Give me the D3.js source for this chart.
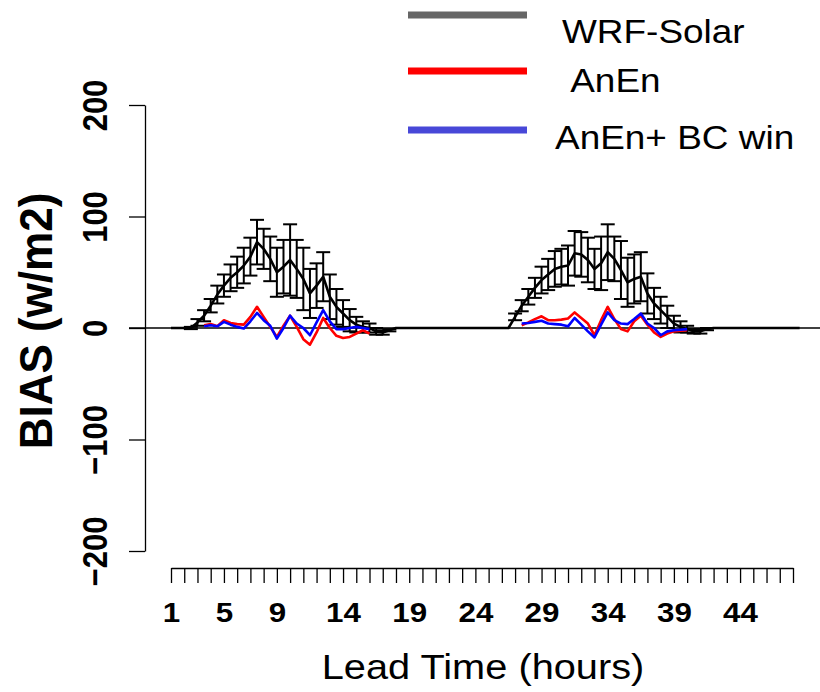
<!DOCTYPE html>
<html>
<head>
<meta charset="utf-8">
<script src="https://cdn.jsdelivr.net/npm/d3@7"></script>
<style>
  body { margin: 0; background: #fff; }
  text { font-family: Arial, "Liberation Sans", sans-serif; }
</style>
</head>
<body>
<svg id="drawing_region"></svg>
<script>
// lead times, every half hour
const leadTimes = d3.range(1, 49, 0.5);

// mean bias of WRF-Solar (w/m2)
const wrfBias = [
  0, 0, 0, 0,
  5, 11, 20, 30, 38, 45, 50, 56, 64, 77, 71, 62, 50, 55, 61, 53, 44, 31, 38, 46, 28, 19, 13, 7, 3, 1, 0, -3, -4, -2,
  0, 0, 0, 0, 0, 0, 0, 0, 0, 0, 0, 0, 0, 0, 0, 0, 0, 0,
  10, 20, 28, 36, 43, 48, 53, 55, 56, 67, 66, 61, 53, 58, 68, 62, 52, 41, 44, 46, 31, 22, 16, 10, 4, 1, -1, -3, -3, -1,
  0, 0, 0, 0, 0, 0, 0, 0, 0, 0, 0, 0, 0, 0
];
// error bar half width of WRF-Solar
const wrfErr = [
  0, 0, 0, 1,
  3, 5, 6, 8, 10, 12, 14, 16, 17, 20, 18, 20, 22, 24, 32, 26, 28, 22, 20, 22, 20, 16, 12, 10, 7, 5, 4, 3, 2, 1,
  0, 0, 0, 0, 0, 0, 0, 0, 0, 0, 0, 0, 0, 0, 0, 0, 0, 0,
  3, 5, 7, 9, 12, 14, 16, 16, 18, 20, 20, 20, 18, 24, 25, 20, 26, 22, 22, 22, 18, 14, 12, 10, 7, 5, 3, 2, 2, 1,
  0, 0, 0, 0, 0, 0, 0, 0, 0, 0, 0, 0, 0, 0
];
const N = null;
const anenBias = [
  N, N, N, N, N,
  2.5, 3.5, 1.5, 7, 4.5, 3.5, 3, 10, 19, 10, 1, -8, 2, 11, 1, -10, -15, -4, 9, 0, -7, -9, -8, -5, -2, -5,
  N, N, N, N, N, N, N, N, N, N, N, N, N, N, N, N, N, N, N, N, N, N,
  2.5, 5, 8, 10.5, 7, 7, 7.5, 8.5, 14, 9, 4, -6.5, 7, 19, 8, -1, -3, 6, 11, 3, -4, -8, -5, -3, -2.5, -2,
  N, N, N, N, N, N, N, N, N, N, N, N, N, N, N, N, N
];
const anenBcBias = [
  N, N, N, N, N,
  1.5, 2.5, 1.5, 5.5, 3, 1, -0.5, 6, 13.5, 7, 2, -9.5, 0, 11, 4, 0, -6.5, 5, 16, 6, -1, -1, 0, 1, 0, -1,
  N, N, N, N, N, N, N, N, N, N, N, N, N, N, N, N, N, N, N, N, N, N,
  4, 4.5, 5.5, 6.5, 4, 3.5, 3, 1.5, 9, 3, -3, -8.5, 3, 14, 7, 4, 3.5, 8, 13, 4, 0, -6.5, -3, -2, -1.5, -1,
  N, N, N, N, N, N, N, N, N, N, N, N, N, N, N, N, N
];

const hourTicks = d3.range(1, 49);
const hourLabels = [1, 5, 9, 14, 19, 24, 29, 34, 39, 44];
const yTicks = [-200, -100, 0, 100, 200];

const legendNames = ['WRF-Solar', ' AnEn', 'AnEn+ BC win'];
const legendColors = ['#666666', '#ff0000', '#4848d8'];

const width = 820, height = 692;
const svg = d3.select('#drawing_region')
  .attr('width', width)
  .attr('height', height);

const xscale = d3.scaleLinear().domain([1, 48]).range([171, 793]);
const yscale = d3.scaleLinear().domain([-200, 200]).range([551, 105]);
const sx = 1.12; // text in the picture is a bit wider than tall

// y axis
const yaxis = d3.axisLeft(yscale)
  .tickValues(yTicks)
  .tickSize(16)
  .tickSizeOuter(0)
  .tickFormat(d => d < 0 ? '\u2212' + Math.abs(d) : d);
const yg = svg.append('g')
  .attr('transform', 'translate(145,0)')
  .call(yaxis);
yg.selectAll('text')
  .attr('x', null).attr('dy', null)
  .attr('text-anchor', 'middle')
  .attr('transform', `translate(-38,0) scale(${sx},1) rotate(-90)`)
  .attr('font-size', 31)
  .attr('font-weight', 'bold')
  .attr('fill', '#000');

// x axis
const xaxis = d3.axisBottom(xscale)
  .tickValues(hourTicks)
  .tickSize(15)
  .tickSizeOuter(0)
  .tickPadding(19)
  .tickFormat(d => hourLabels.includes(d) ? d : '');
const xg = svg.append('g')
  .attr('transform', 'translate(0,568)')
  .call(xaxis);
xg.selectAll('text')
  .attr('transform', `scale(${sx},1)`)
  .attr('font-size', 28)
  .attr('font-weight', 'bold')
  .attr('fill', '#000');
svg.selectAll('.domain, .tick line').attr('stroke', '#000').attr('stroke-width', 1.3);

// axis titles
svg.append('text')
  .attr('transform', `translate(52,321) scale(1.04,1) rotate(-90)`)
  .attr('text-anchor', 'middle')
  .attr('font-size', 44)
  .attr('font-weight', 'bold')
  .text('BIAS (w/m2)');
svg.append('text')
  .attr('transform', `translate(483,679) scale(${sx},1)`)
  .attr('text-anchor', 'middle')
  .attr('font-size', 35.5)
  .text('Lead Time (hours)');

// zero line
svg.append('line')
  .attr('x1', 129).attr('x2', width)
  .attr('y1', yscale(0)).attr('y2', yscale(0))
  .attr('stroke', '#000').attr('stroke-width', 1.6);

// error bars
const cap = 7;
const bars = leadTimes.map((t, i) => ({ t: t, v: wrfBias[i], e: wrfErr[i] })).filter(d => d.e > 0);
const eb = svg.append('g').attr('stroke', '#000').attr('stroke-width', 2);
eb.selectAll('.v').data(bars).enter().append('line')
  .attr('x1', d => xscale(d.t)).attr('x2', d => xscale(d.t))
  .attr('y1', d => yscale(d.v - d.e)).attr('y2', d => yscale(d.v + d.e));
eb.selectAll('.top').data(bars).enter().append('line')
  .attr('x1', d => xscale(d.t) - cap).attr('x2', d => xscale(d.t) + cap)
  .attr('y1', d => yscale(d.v + d.e)).attr('y2', d => yscale(d.v + d.e));
eb.selectAll('.bot').data(bars).enter().append('line')
  .attr('x1', d => xscale(d.t) - cap).attr('x2', d => xscale(d.t) + cap)
  .attr('y1', d => yscale(d.v - d.e)).attr('y2', d => yscale(d.v - d.e));

// lines
const line = d3.line()
  .defined(d => d[1] !== null)
  .x(d => xscale(d[0]))
  .y(d => yscale(d[1]));
const series = [
  { values: wrfBias, color: '#000000' },
  { values: anenBias, color: '#ff0000' },
  { values: anenBcBias, color: '#0000ff' }
];
series.forEach(s => {
  svg.append('path')
    .datum(leadTimes.map((t, i) => [t, s.values[i]]))
    .attr('d', line)
    .attr('fill', 'none')
    .attr('stroke', s.color)
    .attr('stroke-width', 2.6)
    .attr('stroke-linejoin', 'round');
});

// legend
const legendY = [15, 71, 130];
const legendTextY = [43, 92, 149];
const legendTextX = [562, 562, 555];
legendNames.forEach((name, i) => {
  svg.append('line')
    .attr('x1', 408).attr('x2', 527)
    .attr('y1', legendY[i]).attr('y2', legendY[i])
    .attr('stroke', legendColors[i]).attr('stroke-width', 7);
  svg.append('text')
    .attr('transform', `translate(${legendTextX[i]},${legendTextY[i]}) scale(${sx},1)`)
    .attr('font-size', 33)
    .attr('xml:space', 'preserve')
    .style('white-space', 'pre')
    .text(name);
});
</script>
</body>
</html>
